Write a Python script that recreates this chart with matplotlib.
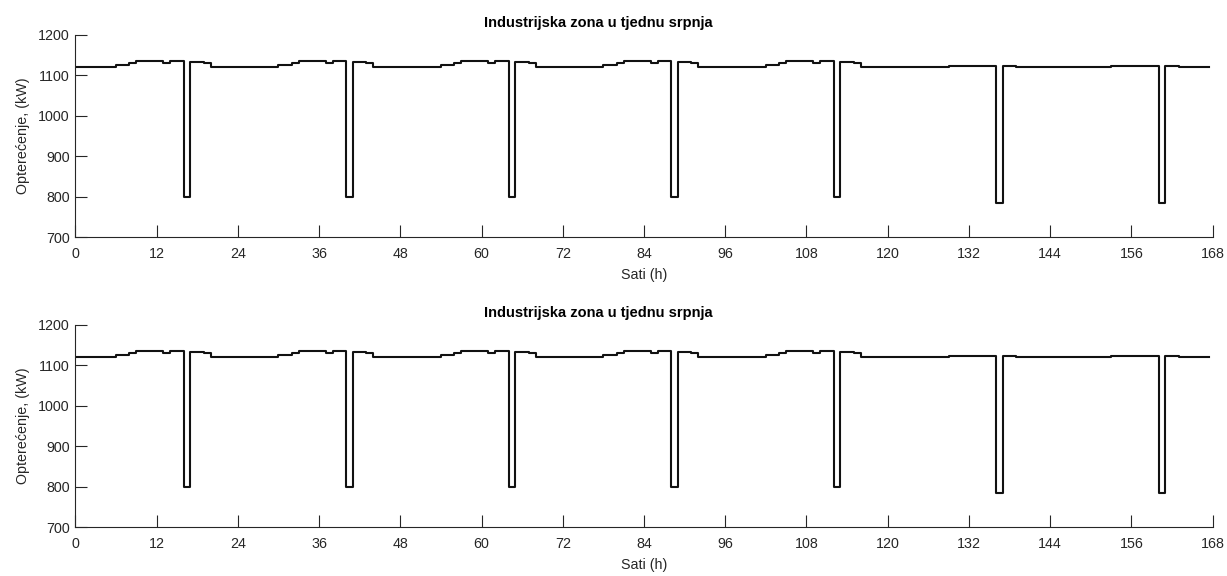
import numpy as np
import matplotlib
matplotlib.use("Agg")
import matplotlib.pyplot as plt

plt.rcParams['font.family'] = ['Liberation Sans', 'DejaVu Sans']

# Hourly load profiles (kW)
weekday_profile = [1122, 1122, 1122, 1122, 1122, 1122,
                   1125, 1125, 1131, 1135, 1135, 1135,
                   1135, 1132, 1135, 1135, 800, 1134,
                   1134, 1131, 1122, 1122, 1122, 1122]
weekend_profile = [1122, 1122, 1122, 1122, 1122, 1122,
                   1122, 1122, 1122, 1124, 1124, 1124,
                   1124, 1124, 1124, 1124, 786, 1124,
                   1124, 1122, 1122, 1122, 1122, 1122]
day_types = ["weekday", "weekday", "weekday", "weekday", "weekday", "weekend", "weekend"]

title = "Industrijska zona u tjednu srpnja"
xlabel = "Sati (h)"
ylabel = "Opterećenje, (kW)"
xticks = list(range(0, 169, 12))
yticks = [700, 800, 900, 1000, 1100, 1200]

hourly = []
for d in day_types:
    hourly += weekday_profile if d == "weekday" else weekend_profile
hourly = np.array(hourly, dtype=float)
# half-hour sampling of the hourly steps
load = np.repeat(hourly, 2)
t = np.arange(len(load)) * 0.5

W, H = 1227, 576
fig = plt.figure(figsize=(W / 100, H / 100), dpi=100)

axc = '#262626'
left = 75.3 / W
width = (1212.7 - 75.3) / W
for top_px in (35.0, 325.0):
    bottom_px = top_px + 202.3
    ax = fig.add_axes([left, 1 - bottom_px / H, width, 202.3 / H])
    ax.plot(t, load, drawstyle='steps-post', color='#111111', lw=1.5)
    ax.set_xlim(0, 168)
    ax.set_ylim(700, 1200)
    ax.set_xticks(xticks)
    ax.set_yticks(yticks)
    for s in ('top', 'right'):
        ax.spines[s].set_visible(False)
    for s in ('left', 'bottom'):
        ax.spines[s].set_color(axc)
        ax.spines[s].set_linewidth(0.8)
    ax.tick_params(direction='in', length=8.5, width=0.8, colors=axc,
                   labelsize=10.3, labelcolor='#262626')
    ax.tick_params(axis='x', pad=7)
    ax.tick_params(axis='y', pad=4)
    ax.set_xlabel(xlabel, fontsize=10.3, color='#262626', labelpad=5)
    ax.set_ylabel(ylabel, fontsize=10.3, color='#262626', labelpad=6)
    ax.set_title(title, fontsize=10.5, fontweight='bold', x=0.46, pad=6)

fig.savefig("out.png", dpi=100)
